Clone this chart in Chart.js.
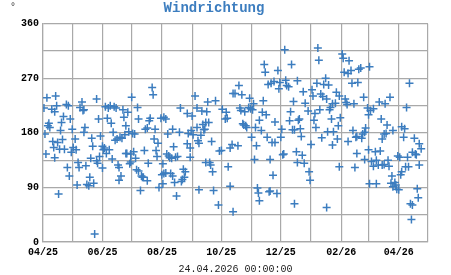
<!DOCTYPE html>
<html>
<head>
<meta charset="utf-8">
<script src="https://cdn.jsdelivr.net/npm/chart.js@4"></script>
<style>
  html, body { margin: 0; padding: 0; background: #fff; }
  #box { width: 451px; height: 275px; }
</style>
</head>
<body>
<div id="box"><canvas id="windChart"></canvas></div>
<script>
// ===============================
// DONNEES (jours depuis le 01.04.2025, direction en degres)
// ===============================

const days = [
    // avril - mai 2025
    4,13,55,1,9,12,14,24,26,38,40,41,42,6,5,7,21,19,28,57,2,18,30,43,42,59,50,10,15,20,
    33,11,17,22,31,34,29,51,61,62,3,12,49,58,55,56,61,36,37,44,25,27,48,35,45,47,52,16,53,
    // juin - aout
    112,113,91,64,67,69,73,75,82,87,83,97,98,110,109,121,124,126,66,70,
    85,72,76,79,74,81,84,88,92,94,105,107,115,114,118,128,63,65,68,71,
    85,86,90,93,95,104,116,117,127,129,90,89,77,78,108,123,96,98,101,102,
    103,107,124,122,126,80,78,123,119,100,
    // aout - octobre
    156,169,177,195,141,148,153,158,163,168,184,188,187,189,133,140,149,152,154,158,
    164,167,170,165,162,166,134,148,151,159,160,173,183,181,192,194,130,132,136,138,
    151,167,171,172,174,190,131,133,144,146,145,135,142,143,137,160,175,192,180,195,
    // octobre - decembre
    248,227,228,255,241,234,231,237,243,242,249,250,252,261,201,197,204,212,216,226,
    257,202,203,207,211,213,215,225,229,222,238,254,253,262,205,208,209,206,218,224,
    245,256,258,214,230,244,235,238,219,200,246,247,260,261,217,233,236,220,221,232,
    233,240,222,258,
    // decembre - fevrier
    282,283,307,308,314,309,313,316,324,326,290,281,288,293,317,323,267,276,277,285,
    287,291,301,304,310,311,312,319,300,297,295,294,269,272,279,284,263,278,305,296,
    264,280,303,265,286,292,298,302,297,313,318,322,321,275,266,268,322,304,320,273,
    274,291,
    // mars - avril 2026
    335,376,329,356,345,351,333,336,339,373,334,347,353,331,330,328,327,350,352,348,
    359,368,371,370,381,386,388,379,382,383,334,341,346,330,337,339,342,344,348,350,
    354,355,364,366,374,372,375,386,368,367,358,335,342,357,359,361,362,363,365,384,
    385,377,379,378
];

const directions = [
    238,241,236,221,219,215,225,227,225,222,231,217,218,196,192,189,207,197,203,203,178,184,186,189,181,175,171,166,164,169,
    170,156,153,153,156,152,148,158,158,152,145,139,138,141,134,130,122,131,123,126,123,109,107,94,95,93,97,79,13,
    255,243,239,223,221,225,223,221,218,214,206,222,203,204,200,204,206,203,204,196,
    192,181,170,173,168,171,177,182,179,178,186,188,186,170,163,178,155,146,152,137,
    146,146,145,149,138,151,151,141,145,142,132,129,127,123,130,129,119,117,109,107,
    107,101,113,111,114,109,102,96,90,85,
    241,231,233,245,221,212,208,221,216,215,219,214,203,204,186,181,179,184,177,189,
    194,197,197,185,176,186,157,162,155,167,163,166,151,150,155,161,139,138,140,141,
    140,131,131,127,116,124,113,109,120,116,107,98,100,103,76,86,85,92,61,50,
    317,293,280,293,283,262,260,265,263,253,267,258,256,266,258,245,243,237,228,233,
    232,221,217,215,222,220,218,214,210,201,198,215,200,201,195,192,189,193,189,184,
    186,185,185,173,173,173,164,164,159,159,144,145,149,131,136,136,110,89,81,83,
    84,80,68,63,
    320,300,310,303,299,280,278,283,285,287,270,262,260,259,262,263,248,251,241,244,
    240,236,247,241,236,230,227,228,229,228,222,218,229,216,212,218,203,201,205,203,
    187,189,192,174,172,182,182,170,160,166,184,174,173,161,143,130,146,124,123,116,
    102,57,
    289,262,239,239,231,228,221,217,220,222,210,203,193,188,181,178,171,178,179,170,
    184,190,187,173,171,162,154,148,145,144,152,149,150,136,133,125,135,127,127,128,
    135,125,142,140,140,124,124,127,116,111,109,96,96,97,91,98,94,87,86,88,
    73,63,61,37
];

// debut de chaque mois (jours depuis le 01.04.2025) et libelles
const monthTicks  = [0, 30, 61, 91, 122, 153, 183, 214, 244, 275, 306, 334, 365, 395];
const monthLabels = ['04/25','','06/25','','08/25','','10/25','','12/25','','02/26','','04/26',''];
const yLabelStep = 90;
const stampText = '24.04.2026 00:00:00';

// ===============================
// GRAPHIQUE
// ===============================

const blue = '#3c7dbf';
const gridColor = '#a9a9a9';
const mono = '"Liberation Mono", "Courier New", monospace';

const degreeSign = {
    id: 'degreeSign',
    afterDraw(chart) {
        const ctx = chart.ctx;
        ctx.save();
        ctx.font = '10px ' + mono;
        ctx.fillStyle = '#333';
        ctx.textAlign = 'center';
        ctx.fillText('°', 13, 10);
        ctx.restore();
    }
};

new Chart(document.getElementById('windChart'), {
    type: 'scatter',
    data: {
        datasets: [{
            data: days.map((d, i) => ({ x: d, y: directions[i] })),
            pointStyle: 'cross',
            pointRadius: 4,
            borderWidth: 1.5,
            borderColor: blue,
            backgroundColor: blue
        }]
    },
    plugins: [degreeSign],
    options: {
        responsive: true,
        maintainAspectRatio: false,
        animation: false,
        layout: { padding: { left: 0, right: 23, top: 0, bottom: 0 } },
        plugins: {
            legend: { display: false },
            tooltip: { enabled: false },
            title: {
                display: true,
                text: 'Windrichtung',
                color: blue,
                font: { family: mono, size: 14, weight: 'bold' },
                padding: { top: 0, bottom: 7 }
            }
        },
        scales: {
            x: {
                type: 'linear',
                min: 0,
                max: 395,
                afterBuildTicks: s => { s.ticks = monthTicks.map(v => ({ value: v })); },
                afterFit: s => { s.height = 33; },
                grid: { color: gridColor, lineWidth: 1.2, drawTicks: false },
                border: { color: gridColor, width: 1.2 },
                ticks: {
                    autoSkip: false,
                    maxRotation: 0,
                    padding: 4,
                    color: '#000',
                    font: { family: mono, size: 10, weight: 'bold' },
                    callback: v => monthLabels[monthTicks.indexOf(v)] || ''
                },
                title: {
                    display: true,
                    text: stampText,
                    color: '#222',
                    font: { family: mono, size: 10 },
                    padding: 0
                }
            },
            y: {
                min: 0,
                max: 360,
                afterFit: s => { s.width = 43; },
                grid: { color: gridColor, lineWidth: 1.2, drawTicks: false },
                border: { color: gridColor, width: 1.2 },
                ticks: {
                    stepSize: 45,
                    padding: 4,
                    color: '#000',
                    font: { family: mono, size: 10, weight: 'bold' },
                    callback: v => v % yLabelStep === 0 ? v : ''
                }
            }
        }
    }
});
</script>
</body>
</html>
